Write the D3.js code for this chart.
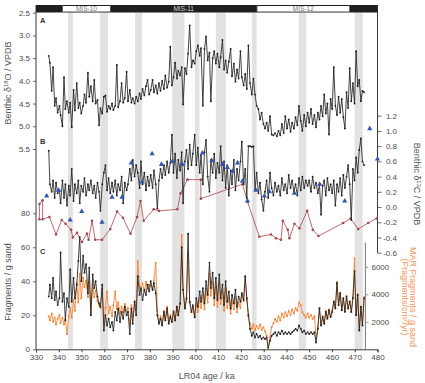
<!DOCTYPE html>
<html><head><meta charset="utf-8">
<script src="https://cdn.jsdelivr.net/npm/d3@7"></script>
<style>body{margin:0;background:#fff}svg{display:block}text{font-family:"Liberation Sans",Arial,sans-serif}</style>
</head><body><svg id="c" width="425" height="383"></svg>
<script>
// ---- data ----
const ages = [
335.6,336.1,336.9,337.5,338.2,338.8,339.5,
340.3,340.8,341.6,342.3,342.9,343.6,344.4,345.0,345.7,346.5,347.1,347.9,348.6,349.2,349.9,
350.7,351.3,352.0,352.8,353.4,354.1,354.9,355.6,356.2,357.0,357.7,358.3,359.1,359.8,
360.5,361.2,361.9,362.6,363.4,364.0,364.8,365.5,366.1,366.9,367.6,368.3,369.0,369.8,
370.4,371.2,371.9,372.5,373.3,374.0,374.7,375.5,376.1,376.8,377.6,378.3,379.0,379.7,
380.4,381.2,381.8,382.6,383.3,384.0,384.7,385.4,386.2,386.8,387.6,388.3,389.0,389.7,
390.4,391.1,391.9,392.5,393.3,394.0,394.6,395.4,396.1,396.8,397.5,398.3,398.9,399.7,
400.4,401.1,401.9,402.5,403.3,404.0,404.7,405.4,406.2,406.8,407.6,408.3,409.0,409.7,
410.5,411.1,411.9,412.6,413.3,414.0,414.7,415.5,416.1,416.9,417.6,418.3,419.0,419.8,
420.4,421.2,421.9,422.6,423.3,424.0,424.8,425.5,426.2,426.9,427.7,428.4,429.1,429.9,
430.6,431.3,432.0,432.8,433.5,434.3,435.0,435.8,436.5,437.3,438.0,438.8,439.5,
440.3,441.0,441.8,442.5,443.3,444.0,444.8,445.5,446.3,447.0,447.8,448.5,449.3,
450.0,450.8,451.5,452.3,453.0,453.8,454.5,455.2,455.9,456.6,457.3,458.0,458.7,459.4,
460.1,460.8,461.5,462.2,462.9,463.6,464.3,465.0,465.7,466.4,467.1,467.8,468.5,469.2,469.9,
470.6,471.3,472.0,472.7,473.4,474.1];

const d18O = [
3.45,3.60,4.22,3.70,4.55,4.38,4.70,
4.55,4.75,5.00,3.92,4.62,4.45,4.70,4.48,5.02,4.20,4.65,4.05,4.60,4.48,4.72,
4.55,4.30,4.48,3.82,4.35,4.12,4.45,3.98,4.50,4.42,4.98,4.60,4.72,4.35,
4.32,4.68,4.55,4.62,4.50,4.64,4.55,3.65,4.58,4.45,4.05,4.48,4.38,3.80,
4.45,4.20,4.48,4.38,4.50,4.35,4.45,4.28,4.40,4.18,4.32,4.12,3.98,4.30,
4.20,3.98,4.25,4.10,4.28,4.05,4.22,4.00,4.18,3.88,4.15,4.02,3.25,4.10,
3.92,3.60,3.95,3.78,3.88,3.70,4.52,3.72,3.85,3.40,2.78,3.70,3.55,3.62,
3.35,3.22,3.45,3.28,4.55,3.30,3.02,3.55,3.38,4.45,3.50,3.35,3.62,3.40,
3.70,3.48,3.10,3.75,3.55,3.82,3.58,3.30,3.90,3.62,4.02,3.75,3.95,3.35,
3.92,4.10,3.85,4.18,3.22,4.05,4.30,3.95,4.30,4.55,4.62,4.85,4.70,4.95,
5.05,4.92,5.10,4.78,5.18,5.20,5.15,5.22,5.10,5.20,4.95,5.15,4.78,
5.05,4.85,5.12,4.92,5.05,4.80,4.98,4.55,4.88,5.10,4.75,5.00,4.70,
4.92,4.62,4.95,4.75,5.02,4.70,4.85,4.55,4.78,4.30,4.72,4.50,5.18,4.40,
4.62,3.70,4.55,4.75,4.35,4.70,4.40,4.80,5.05,4.25,4.60,3.72,4.45,4.05,4.50,
3.35,4.12,3.98,4.45,4.22,4.25];

const d13C = [
0.74,0.30,0.20,0.35,0.12,0.32,0.18,
0.22,0.05,0.35,0.12,0.30,0.02,0.28,0.15,0.50,0.08,0.30,0.18,0.35,0.05,0.28,
0.20,0.38,0.15,0.30,0.22,0.35,0.18,0.28,0.12,0.32,0.20,-0.05,0.30,0.45,
0.55,0.22,0.38,0.18,0.32,0.20,0.35,0.15,0.30,0.22,0.40,0.05,0.32,0.22,
0.30,0.50,0.35,0.62,0.40,0.55,0.45,0.25,0.60,0.30,0.45,0.22,0.40,0.28,
0.42,0.25,0.48,0.30,-0.02,0.35,0.50,0.38,0.55,0.42,0.60,0.45,0.58,0.95,
0.45,0.70,0.38,0.62,0.48,0.72,0.05,0.60,0.75,0.50,0.82,0.55,0.70,0.95,
0.55,0.78,0.45,0.68,0.30,0.72,0.88,0.40,0.20,0.62,0.45,0.70,0.38,0.58,
0.45,0.80,0.35,0.60,0.25,0.55,0.15,0.48,0.30,0.62,0.22,0.50,0.35,0.60,
0.86,0.30,0.50,0.12,0.80,0.80,0.79,0.80,0.22,0.45,0.18,0.32,0.10,-0.05,
0.20,0.35,0.12,0.45,0.25,0.15,0.32,0.20,0.28,0.15,0.38,0.22,0.30,
0.18,0.42,0.25,0.35,0.20,0.30,0.15,0.38,0.22,0.40,0.25,0.35,0.28,
0.35,0.20,0.40,0.25,0.32,0.18,0.30,-0.10,0.28,0.35,0.15,0.38,0.22,0.30,
0.18,0.35,0.02,0.30,0.20,0.38,0.15,0.42,0.25,0.40,0.55,0.30,-0.17,0.50,0.35,
0.65,0.45,0.75,0.90,0.60,0.55];

const fragments = [
31,38,30,42,29,34,26,
30,57,28,33,17,30,25,47,28,42,30,38,52,66,40,
55,45,50,33,48,20,44,36,40,31,27,25,38,11,
20,14,18,13,16,11,22,17,24,16,22,18,25,20,
22,9,24,15,28,20,43,32,36,29,35,32,38,34,
40,35,39,33,20,15,18,14,22,17,24,15,19,16,
22,17,25,20,27,60,35,24,30,68,28,22,26,19,
30,25,34,28,36,27,40,32,51,36,45,30,42,29,
44,30,38,26,40,28,34,24,32,27,35,25,31,28,
33,29,43,30,20,12,8,10,7,9,7,8,6,7,
6,7,1,5,8,9,10,8,10,9,11,9,10,
9,10,9,10,11,12,11,14,12,10,11,9,10,
9,10,9,10,4,12,24,14,19,15,22,18,23,19,
22,28,24,39,26,33,23,30,22,31,24,28,22,30,46,
20,32,11,25,14,30];

const marFragments = [
2400,2100,2600,2000,2300,1800,2200,
2500,1900,2300,1800,2200,1100,2400,3000,2300,3600,2800,4800,3400,5500,3700,
5200,4500,5000,3800,4900,2600,4700,3800,4300,3500,3200,3000,4400,1800,
3000,4200,2600,3100,2400,3200,4200,2900,3400,2600,3100,2700,3300,2800,
3000,1800,3200,2400,3500,3000,6400,4600,4300,4800,4200,4900,4400,4700,
4600,4300,5000,6300,2800,1900,2400,1800,2800,2200,3100,2000,2500,2100,
2800,2100,3100,2500,3300,8300,4300,3000,3600,7000,3400,2700,3100,2300,
3300,2700,3700,3000,3900,2900,4400,3400,5500,3900,4900,3200,4500,3100,
4800,3300,4200,2800,4400,3000,3700,2600,3500,2900,3800,2700,3400,3000,
4000,3500,5200,3600,2400,1900,1500,1800,1400,1700,1500,1800,1400,1600,
1300,1000,50,900,1600,1900,2200,2000,2400,2100,2600,2300,2700,
2400,2800,2500,2900,2600,3000,2800,3400,3200,2700,2500,2300,2600,
2300,2500,2200,2400,800,1600,3000,1800,2400,1900,2800,2300,2900,2400,
2800,3500,3000,4900,3200,4100,2900,3700,2800,3900,3000,3500,2700,3800,6600,
2500,4000,1400,3100,1800,3800];

const triAges = [334.7,339.9,345.0,350.1,359.0,363.4,367.8,371.9,376.6,381.0,385.1,389.9,394.3,403.1,407.2,411.9,414.1,416.3,418.5,420.7,422.9,426.6,430.3,432.5,443.5,454.6,465.6,476.6,480.0];
const triVals = [0.145,0.22,-0.17,-0.06,-0.20,0.13,0.13,0.58,0.33,0.70,0.56,0.60,0.56,0.71,0.61,0.56,0.52,0.47,0.58,0.34,0.08,0.22,0.145,0.20,0.18,0.30,0.08,1.03,0.63];

const redAges = [331.5,331.5,332.9,332.9,335.9,338.8,341.3,343.0,345.4,346.2,348.0,350.2,352.4,353.1,354.6,356.0,359.0,362.6,365.6,368.2,371.5,374.4,375.9,377.3,381.7,384.0,392.1,393.5,396.5,402.4,402.4,420.7,422.9,428.1,433.2,435.4,437.6,438.4,440.6,441.3,443.5,445.7,449.1,451.6,454.1,464.9,468.2,471.5,475.9,479.6];
const redVals = [-0.16,0.04,0.09,-0.16,-0.13,-0.36,-0.17,-0.22,-0.30,-0.40,-0.34,-0.46,-0.35,-0.43,-0.18,-0.43,-0.43,-0.29,-0.06,-0.14,-0.35,-0.13,0.08,-0.18,-0.03,-0.05,-0.03,0.18,0.36,0.36,0.11,0.30,0.07,-0.39,-0.36,-0.41,-0.43,-0.18,-0.30,-0.41,-0.22,-0.28,-0.05,-0.30,-0.38,-0.21,-0.15,-0.29,-0.21,-0.15];

const bandStart = [344.0,358.2,373.5,389.9,399.8,409.0,424.8,445.4,470.0];
const bandEnd   = [346.2,361.6,376.6,395.2,401.8,413.4,426.9,448.7,473.5];

const misStart = [330,341.6,362.7,427.0,467.8];
const misEnd   = [341.6,362.7,427.0,467.8,480];
const misLabel = ["","MIS-10","MIS-11","MIS-12",""];
const misDark  = [true,false,true,false,true];

const xTicks = [330,340,350,360,370,380,390,400,410,420,430,440,450,460,470,480];
const aTicks = [2.5,3.0,3.5,4.0,4.5,5.0,5.5];
const bTicks = [-0.6,-0.4,-0.2,0.0,0.2,0.4,0.6,0.8,1.0,1.2];
const cTicks = [0,20,40,60,80];
const mTicks = [2000,4000,6000];

// ---- drawing ----
const svg = d3.select("#c");
const x = d3.scaleLinear().domain([330,480]).range([36,377.5]);
const yA = d3.scaleLinear().domain([2.5,5.5]).range([12.7,149]);
const yB = d3.scaleLinear().domain([-0.6,1.2]).range([252.7,115.7]);
const yC = d3.scaleLinear().domain([0,80]).range([349.3,213.3]);
const yM = d3.scaleLinear().domain([0,8000]).range([349.3,239.3]);
const yTop = 5, yBot = 349.3;
const ink = "#222", tickCol = "#444";

// bands
svg.append("g").selectAll("rect").data(bandStart).join("rect")
  .attr("x", (d,i)=>x(d)).attr("width",(d,i)=>x(bandEnd[i])-x(d))
  .attr("y",12.5).attr("height",yBot-12.5).attr("fill","#e2e2e2");

// MIS bar
const mis = svg.append("g");
misStart.forEach((s,i)=>{
  const x0=x(s), x1=x(misEnd[i]);
  mis.append("rect").attr("x",x0).attr("y",yTop).attr("width",x1-x0).attr("height",7.5).attr("fill","#1f1f1f");
  if(!misDark[i]) mis.append("rect").attr("x",x0+0.5).attr("y",yTop+1).attr("width",x1-x0-1).attr("height",5.6).attr("fill","#fff");
  if(misLabel[i]) mis.append("text").attr("x",(x0+x1)/2).attr("y",yTop+6.2).attr("text-anchor","middle")
    .attr("font-size",6.5).attr("fill",misDark[i]?"#d8d8d8":"#777").text(misLabel[i]);
});

// frame lines
svg.append("line").attr("x1",36).attr("x2",36).attr("y1",yTop).attr("y2",yBot).attr("stroke",ink).attr("stroke-width",0.9);
svg.append("line").attr("x1",377.5).attr("x2",377.5).attr("y1",yTop).attr("y2",yB(-0.6)).attr("stroke",ink).attr("stroke-width",0.9);

function styleAxis(g, col){
  g.select(".domain").remove();
  g.selectAll("line").attr("stroke",col||tickCol).attr("stroke-width",0.8);
  g.selectAll("text").attr("font-size",8).attr("fill","#4a4a4a").style("font-family",'"Liberation Sans",Arial,sans-serif');
}
// bottom axis
const gx = svg.append("g").attr("transform",`translate(0,${yBot})`)
  .call(d3.axisBottom(x).tickValues(xTicks).tickSize(3).tickPadding(2));
gx.select(".domain").attr("stroke",ink).attr("stroke-width",0.9);
gx.selectAll("line").attr("stroke",tickCol);
gx.selectAll("text").attr("font-size",8).attr("fill","#4a4a4a").style("font-family",'"Liberation Sans",Arial,sans-serif');

// left axes
const ga = svg.append("g").attr("transform","translate(36,0)")
  .call(d3.axisLeft(yA).tickValues(aTicks).tickFormat(d=>d.toFixed(1)).tickSize(3).tickPadding(3));
styleAxis(ga);
const gc = svg.append("g").attr("transform","translate(36,0)")
  .call(d3.axisLeft(yC).tickValues(cTicks).tickSize(3).tickPadding(3));
styleAxis(gc);
// right B axis
const gb = svg.append("g").attr("transform","translate(377.5,0)")
  .call(d3.axisRight(yB).tickValues(bTicks).tickFormat(d=>d.toFixed(1)).tickSize(4));
styleAxis(gb);
gb.selectAll("text").attr("x",19.5).attr("text-anchor","end");
// MAR axis
const mx = x(474.7);
const gm = svg.append("g").attr("transform",`translate(${mx},0)`)
  .call(d3.axisRight(yM).tickValues(mTicks).tickFormat(d=>String(d)).tickSize(3).tickPadding(3));
styleAxis(gm,"#888");
svg.append("line").attr("x1",mx).attr("x2",mx).attr("y1",yM(0)).attr("y2",yM(7760)).attr("stroke","#8a8a8a").attr("stroke-width",1.2);

// red series (panel B)
const redPts = redAges.map((a,i)=>[a,redVals[i]]);
svg.append("path").datum(redPts).attr("fill","none").attr("stroke","#a8464f").attr("stroke-width",0.8)
  .attr("d",d3.line().x(d=>x(d[0])).y(d=>yB(d[1])));
svg.append("g").selectAll("circle").data(redPts).join("circle")
  .attr("cx",d=>x(d[0])).attr("cy",d=>yB(d[1])).attr("r",1.3).attr("fill","#a8464f");

// black d13C
const bPts = ages.map((a,i)=>[a,d13C[i]]);
svg.append("path").datum(bPts).attr("fill","none").attr("stroke",ink).attr("stroke-width",0.85)
  .attr("d",d3.line().x(d=>x(d[0])).y(d=>yB(d[1])));
svg.append("g").selectAll("circle").data(bPts).join("circle")
  .attr("cx",d=>x(d[0])).attr("cy",d=>yB(d[1])).attr("r",0.95).attr("fill",ink);

// blue triangles
svg.append("g").selectAll("path").data(triAges).join("path")
  .attr("transform",(d,i)=>`translate(${x(d)},${yB(triVals[i])})`)
  .attr("d",d3.symbol().type(d3.symbolTriangle).size(12)).attr("fill","#3556b0");

// panel A
const aPts = ages.map((a,i)=>[a,d18O[i]]);
svg.append("path").datum(aPts).attr("fill","none").attr("stroke",ink).attr("stroke-width",0.85)
  .attr("d",d3.line().x(d=>x(d[0])).y(d=>yA(d[1])));
svg.append("g").selectAll("circle").data(aPts).join("circle")
  .attr("cx",d=>x(d[0])).attr("cy",d=>yA(d[1])).attr("r",0.95).attr("fill",ink);

// panel C orange MAR
const mPts = ages.map((a,i)=>[a,marFragments[i]]);
svg.append("path").datum(mPts).attr("fill","none").attr("stroke","#f47f2e").attr("stroke-width",0.85)
  .attr("d",d3.line().x(d=>x(d[0])).y(d=>yM(d[1])));
svg.append("g").selectAll("circle").data(mPts).join("circle")
  .attr("cx",d=>x(d[0])).attr("cy",d=>yM(d[1])).attr("r",0.95).attr("fill","#f47f2e");
// panel C black fragments
const cPts = ages.map((a,i)=>[a,fragments[i]]);
svg.append("path").datum(cPts).attr("fill","none").attr("stroke",ink).attr("stroke-width",0.85)
  .attr("d",d3.line().x(d=>x(d[0])).y(d=>yC(d[1])));
svg.append("g").selectAll("circle").data(cPts).join("circle")
  .attr("cx",d=>x(d[0])).attr("cy",d=>yC(d[1])).attr("r",0.95).attr("fill",ink);

// panel letters
[["A",23],["B",144],["C",254]].forEach(([t,yy])=>{
  svg.append("text").attr("x",40).attr("y",yy).attr("font-size",7.5).attr("font-weight","bold").attr("fill","#333").text(t);
});

// titles
const tcol = "#555";
svg.append("text").attr("x",(36+377.5)/2).attr("y",379).attr("text-anchor","middle")
  .attr("font-size",9).attr("fill",tcol).text("LR04 age / ka");

function title(tx,ty,rot,parts,col,fs){
  const t = svg.append("text").attr("transform",`translate(${tx},${ty}) rotate(${rot})`)
    .attr("text-anchor","middle").attr("font-size",fs||9).attr("fill",col);
  parts.forEach(p=>{
    if(p.sup){ t.append("tspan").attr("dy",-3).attr("font-size",6).text(p.t); }
    else if(p.after){ t.append("tspan").attr("dy",3).text(p.t); }
    else t.append("tspan").text(p.t);
  });
}
title(11,83,-90,[{t:"Benthic δ"},{t:"18",sup:1},{t:"O / VPDB",after:1}],tcol);
title(11,282,-90,[{t:"Fragments / g sand"}],tcol);
title(414,184,90,[{t:"Benthic δ"},{t:"13",sup:1},{t:"C / VPDB",after:1}],tcol);
title(410,297,90,[{t:"MAR Fragments / g sand"}],"#f3935a");
title(402,297,90,[{t:"(Fragments/cm"},{t:"2",sup:1},{t:"/yr)",after:1}],"#f3935a");
</script>
</body></html>
